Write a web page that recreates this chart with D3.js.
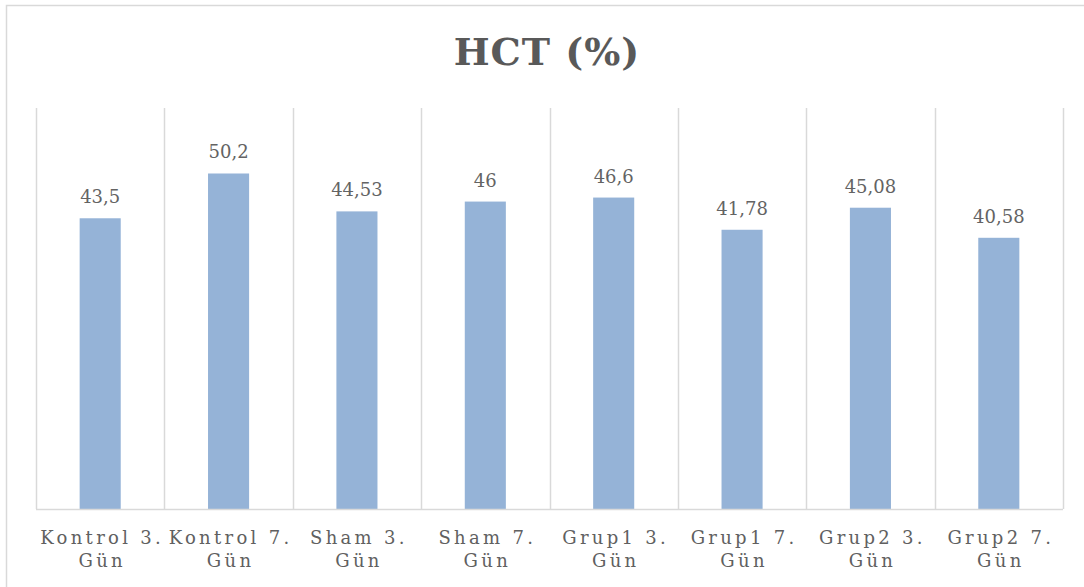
<!DOCTYPE html>
<html>
<head>
<meta charset="utf-8">
<script src="https://cdnjs.cloudflare.com/ajax/libs/d3/7.8.5/d3.min.js"></script>
<style>
  body { margin: 0; background: #fff; }
  text { font-family: "DejaVu Serif", serif; fill: #595959; }
</style>
</head>
<body>
<script>
var categories = ["Kontrol 3. Gün", "Kontrol 7. Gün", "Sham 3. Gün", "Sham 7. Gün",
                  "Grup1 3. Gün", "Grup1 7. Gün", "Grup2 3. Gün", "Grup2 7. Gün"];
var labelLines = [["Kontrol 3.", "Gün"], ["Kontrol 7.", "Gün"], ["Sham 3.", "Gün"], ["Sham 7.", "Gün"],
                  ["Grup1 3.", "Gün"], ["Grup1 7.", "Gün"], ["Grup2 3.", "Gün"], ["Grup2 7.", "Gün"]];
var values = [43.5, 50.2, 44.53, 46, 46.6, 41.78, 45.08, 40.58];
var valueLabels = ["43,5", "50,2", "44,53", "46", "46,6", "41,78", "45,08", "40,58"];
var yDomain = [0, 60];
var title = "HCT (%)";

var Chart = (function(){
	var w = 1084;
	var h = 587;
	var m = {left: 36, right: 21, top: 108, bottom: 78};

	var API = {};

	API.draw = function (){
		var svg = d3.select("body").append("svg").attr("width", w).attr("height", h);

		// chart frame, right/bottom edges fall outside the picture
		svg.append("rect")
			.attr("x", 6.5).attr("y", 5.5)
			.attr("width", w + 20).attr("height", h + 20)
			.attr("fill", "none").attr("stroke", "#d9d9d9").attr("stroke-width", 1.5);

		var x = d3.scaleBand().domain(categories).range([m.left, w - m.right]);
		var y = d3.scaleLinear().domain(yDomain).range([h - m.bottom, m.top]);
		var bw = x.bandwidth() * 0.32;

		// vertical separators between categories
		var edges = categories.map(function(c){ return x(c); }).concat([w - m.right]);
		svg.selectAll("line.grid").data(edges).enter().append("line")
			.attr("class", "grid")
			.attr("x1", function(d){ return Math.round(d) + 0.5; })
			.attr("x2", function(d){ return Math.round(d) + 0.5; })
			.attr("y1", y(yDomain[1])).attr("y2", y(0))
			.attr("stroke", "#d9d9d9").attr("stroke-width", 1.5);

		svg.selectAll("rect.bar").data(values).enter().append("rect")
			.attr("class", "bar")
			.attr("x", function(d, i){ return x(categories[i]) + (x.bandwidth() - bw) / 2; })
			.attr("y", function(d){ return y(d); })
			.attr("width", bw)
			.attr("height", function(d){ return y(0) - y(d); })
			.attr("fill", "#95b3d7");

		// category axis line
		svg.append("line")
			.attr("x1", m.left).attr("x2", w - m.right)
			.attr("y1", y(0) + 0.5).attr("y2", y(0) + 0.5)
			.attr("stroke", "#d9d9d9").attr("stroke-width", 1.5);

		svg.selectAll("text.val").data(values).enter().append("text")
			.attr("class", "val")
			.attr("x", function(d, i){ return x(categories[i]) + x.bandwidth() / 2; })
			.attr("y", function(d){ return y(d) - 15; })
			.attr("text-anchor", "middle")
			.style("font-size", "18px")
			.style("fill", "#636363")
			.text(function(d, i){ return valueLabels[i]; });

		var lab = svg.selectAll("text.cat").data(labelLines).enter().append("text")
			.attr("class", "cat")
			.attr("text-anchor", "middle")
			.style("font-size", "18px")
			.style("fill", "#606060")
			.style("letter-spacing", "3.3px");
		lab.selectAll("tspan").data(function(d, i){
				return d.map(function(t){ return {t: t, c: categories[i]}; });
			}).enter().append("tspan")
			.attr("x", function(d){ return x(d.c) + x.bandwidth() / 2 + 2; })
			.attr("y", function(d, j){ return y(0) + 35 + j * 23; })
			.text(function(d){ return d.t; });

		svg.append("text")
			.attr("x", w / 2 + 5).attr("y", 65)
			.attr("text-anchor", "middle")
			.style("font-size", "38px").style("font-weight", "bold")
			.style("letter-spacing", "1px")
			.text(title);
	};
	return API;
})();

Chart.draw();
</script>
</body>
</html>
